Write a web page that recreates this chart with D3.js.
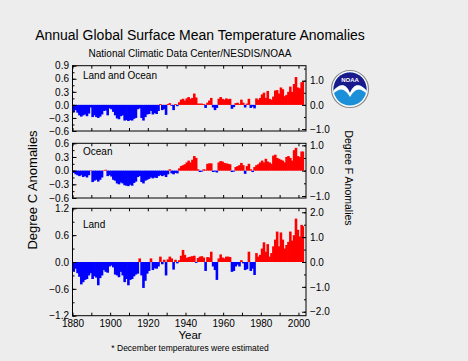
<!DOCTYPE html>
<html><head><meta charset="utf-8">
<script src="https://cdn.jsdelivr.net/npm/d3@7/dist/d3.min.js"></script>
<style>
html,body{margin:0;padding:0;background:#ededed;}
svg text{font-family:"Liberation Sans",Arial,sans-serif;fill:#000;}
</style></head>
<body><svg id="c" width="468" height="361"></svg>
<script>
const firstYear = 1880, lastYear = 2002;
const years = d3.range(firstYear, lastYear + 1);
const landOcean = [-0.17,-0.12,-0.18,-0.24,-0.27,-0.24,-0.22,-0.26,-0.20,-0.06,
-0.28,-0.24,-0.28,-0.30,-0.27,-0.22,-0.14,-0.13,-0.24,-0.08,
-0.10,-0.16,-0.24,-0.31,-0.33,-0.26,-0.24,-0.36,-0.35,-0.37,
-0.35,-0.36,-0.32,-0.30,-0.10,-0.08,-0.30,-0.36,-0.28,-0.22,
-0.21,-0.14,-0.22,-0.19,-0.21,-0.14,0.02,-0.12,-0.10,-0.23,
0.02,0.04,-0.02,-0.12,0.02,-0.03,0.06,0.12,0.14,0.10,
0.15,0.18,0.14,0.16,0.26,0.17,0.03,0.03,0.03,0.02,
-0.07,0.05,0.10,0.16,-0.06,-0.12,-0.07,0.14,0.18,0.14,
0.12,0.15,0.13,0.14,-0.09,-0.05,0.04,0.05,0.02,0.12,
0.05,-0.06,0.03,0.14,-0.07,-0.04,-0.08,0.15,0.12,0.16,
0.24,0.28,0.16,0.32,0.14,0.12,0.19,0.33,0.34,0.26,
0.40,0.36,0.20,0.23,0.30,0.42,0.30,0.48,0.64,0.40,
0.38,0.52,0.55];
const ocean = [-0.05,-0.08,-0.10,-0.12,-0.10,-0.14,-0.12,-0.15,-0.10,0.01,
-0.25,-0.22,-0.20,-0.24,-0.20,-0.15,0.01,0.02,-0.12,-0.10,
-0.13,-0.20,-0.22,-0.28,-0.30,-0.26,-0.28,-0.32,-0.33,-0.34,
-0.31,-0.33,-0.27,-0.24,-0.14,-0.12,-0.25,-0.28,-0.22,-0.20,
-0.18,-0.15,-0.17,-0.15,-0.16,-0.12,-0.10,-0.12,-0.10,-0.14,
-0.08,0.03,-0.06,-0.08,-0.05,-0.06,0.05,0.10,0.12,0.14,
0.18,0.22,0.18,0.24,0.32,0.28,0.03,-0.03,-0.02,0.03,
0.02,0.15,0.16,0.16,-0.03,-0.02,-0.04,0.18,0.21,0.20,
0.17,0.16,0.15,0.14,-0.03,-0.02,0.08,0.10,0.12,0.17,
0.12,-0.07,0.10,0.15,0.03,-0.03,0.08,0.12,0.14,0.18,
0.22,0.18,0.26,0.20,0.18,0.15,0.33,0.35,0.28,0.26,
0.24,0.22,0.18,0.30,0.32,0.28,0.22,0.45,0.50,0.32,
0.30,0.42,0.42];
const land = [-0.22,-0.15,-0.25,-0.33,-0.50,-0.45,-0.40,-0.38,-0.30,-0.25,
-0.38,-0.32,-0.35,-0.52,-0.36,-0.30,-0.18,-0.22,-0.24,-0.10,
-0.08,-0.12,-0.28,-0.30,-0.34,-0.22,-0.30,-0.45,-0.38,-0.52,
-0.40,-0.38,-0.32,-0.28,-0.26,0.08,-0.30,-0.58,-0.42,-0.26,
-0.20,0.08,-0.18,-0.14,-0.15,-0.10,0.12,-0.05,0.05,-0.30,
0.06,0.12,0.08,-0.17,0.05,-0.03,0.04,0.14,0.27,0.16,
0.09,0.11,0.12,0.13,0.14,-0.02,0.09,0.12,0.13,0.10,
-0.20,0.11,0.10,0.23,-0.10,-0.18,-0.40,0.08,0.17,0.10,
0.08,0.12,0.12,0.11,-0.22,-0.20,-0.10,-0.06,-0.10,0.04,
-0.03,-0.18,-0.16,0.23,-0.20,-0.15,-0.29,0.20,0.12,0.16,
0.30,0.44,0.23,0.40,0.12,0.20,0.35,0.50,0.68,0.35,
0.66,0.50,0.30,0.38,0.45,0.68,0.48,0.60,0.97,0.72,
0.57,0.83,0.80];

const yearTicks = [1880,1900,1920,1940,1960,1980,2000];
const decadeTicks = d3.range(1880, 2001, 10);
const ticksLO = [-0.6,-0.3,0.0,0.3,0.6,0.9];
const ticksOcean = [-0.6,-0.3,0.0,0.3,0.6];
const ticksLand = [-1.2,-0.6,0.0,0.6,1.2];
const fTicksSmall = [-1.0,0.0,1.0];
const fTicksLand = [-2.0,-1.0,0.0,1.0,2.0];

const panels = [
  {name:"Land and Ocean", data:landOcean, dom:[-0.6,0.9], y0:65.7, y1:131, ticks:ticksLO, minor:0.15, fticks:fTicksSmall, fminor:0.5},
  {name:"Ocean", data:ocean, dom:[-0.6,0.6], y0:143.3, y1:198, ticks:ticksOcean, minor:0.15, fticks:fTicksSmall, fminor:0.5},
  {name:"Land", data:land, dom:[-1.2,1.2], y0:208.3, y1:315.7, ticks:ticksLand, minor:0.3, fticks:fTicksLand, fminor:0.5}
];

const svg = d3.select("#c");
const X0 = 72.5, X1 = 306;
const x = d3.scaleLinear().domain([1880, 2004]).range([X0, X1]);
const fmt = d3.format(".1f");
const tickFont = a => a.selectAll("text").style("font-size","10px").style("font-family",'"Liberation Sans",Arial,sans-serif');

// Title
svg.append("text").attr("x", 200).attr("y", 39.5).attr("text-anchor","middle")
  .style("font-size","14px").text("Annual Global Surface Mean Temperature Anomalies");
svg.append("text").attr("x", 190).attr("y", 57).attr("text-anchor","middle")
  .style("font-size","10px").text("National Climatic Data Center/NESDIS/NOAA");

panels.forEach((p, i) => {
  const y = d3.scaleLinear().domain(p.dom).range([p.y1, p.y0]);
  const yf = d3.scaleLinear().domain([p.dom[0]*1.8, p.dom[1]*1.8]).range([p.y1, p.y0]);
  const g = svg.append("g");
  const step = x(1881) - x(1880);
  // bars
  g.selectAll("rect.bar").data(years).join("rect")
    .attr("x", d => x(d))
    .attr("width", d => d === lastYear ? step : step + 0.7)
    .attr("y", (d, k) => y(Math.max(0, p.data[k])))
    .attr("height", (d, k) => Math.abs(y(p.data[k]) - y(0)))
    .attr("fill", (d, k) => p.data[k] >= 0 ? "#ff0000" : "#0000ff");
  // frame
  g.append("rect").attr("x", X0).attr("y", p.y0).attr("width", X1 - X0).attr("height", p.y1 - p.y0)
    .attr("fill","none").attr("stroke","#000").attr("stroke-width",1);
  // left axis
  const minorC = d3.range(p.dom[0], p.dom[1] + 1e-6, p.minor);
  g.append("g").attr("transform",`translate(${X0},0)`)
    .call(d3.axisLeft(y).tickValues(minorC).tickSize(-2).tickFormat(""))
    .call(a => a.select(".domain").remove());
  g.append("g").attr("transform",`translate(${X0},0)`)
    .call(d3.axisLeft(y).tickValues(p.ticks).tickSizeInner(-4).tickSizeOuter(0).tickPadding(3.5).tickFormat(fmt))
    .call(a => a.select(".domain").remove())
    .call(tickFont);
  // right axis (F)
  const fmin = Math.ceil(p.dom[0]*1.8/p.fminor)*p.fminor, fmax = Math.floor(p.dom[1]*1.8/p.fminor)*p.fminor;
  g.append("g").attr("transform",`translate(${X1},0)`)
    .call(d3.axisRight(yf).tickValues(d3.range(fmin, fmax + 1e-6, p.fminor)).tickSize(-2).tickFormat(""))
    .call(a => a.select(".domain").remove());
  g.append("g").attr("transform",`translate(${X1},0)`)
    .call(d3.axisRight(yf).tickValues(p.fticks).tickSizeInner(-4).tickSizeOuter(0).tickPadding(4).tickFormat(fmt))
    .call(a => a.select(".domain").remove())
    .call(tickFont);
  // top & bottom ticks
  g.append("g").attr("transform",`translate(0,${p.y0})`)
    .call(d3.axisTop(x).tickValues(decadeTicks).tickSize(-3).tickFormat(""))
    .call(a => a.select(".domain").remove());
  g.append("g").attr("transform",`translate(0,${p.y1})`)
    .call(d3.axisBottom(x).tickValues(decadeTicks).tickSizeInner(-3).tickSizeOuter(0).tickPadding(4)
      .tickFormat(d => (i === 2 && yearTicks.includes(d)) ? String(d) : ""))
    .call(a => a.select(".domain").remove())
    .call(tickFont);
  // panel label
  g.append("text").attr("x", 83).attr("y", [79, 154.7, 227.7][i]).style("font-size","10px").text(p.name);
});

// axis titles
svg.append("text").attr("transform","translate(37,190) rotate(-90)").attr("text-anchor","middle")
  .style("font-size","13px").text("Degree C Anomalies");
svg.append("text").attr("transform","translate(344.5,178) rotate(90)").attr("text-anchor","middle")
  .style("font-size","10.5px").text("Degree F Anomalies");
svg.append("text").attr("x",190).attr("y",339).attr("text-anchor","middle").style("font-size","11.5px").text("Year");
svg.append("text").attr("x",190).attr("y",351).attr("text-anchor","middle").style("font-size","8.5px").text("* December temperatures were estimated");

// NOAA logo
const lg = svg.append("g").attr("transform","translate(350,89)");
lg.append("circle").attr("r",18.5).attr("fill","#ffffff").attr("stroke","#888").attr("stroke-width",1.2);
lg.append("defs").append("clipPath").attr("id","lc").append("circle").attr("r",16.5);
const lc = lg.append("g").attr("clip-path","url(#lc)");
lc.append("rect").attr("x",-17).attr("y",-17).attr("width",34).attr("height",34).attr("fill","#1b8fd8");
lc.append("path").attr("d","M-17,-17 H17 V2 C10,-6 4,-6 0,4 C-4,-6 -10,-6 -17,2 Z").attr("fill","#1a1a8c");
lc.append("path").attr("d","M-17,2 C-10,-6 -4,-6 0,4 C4,-6 10,-6 17,2 L17,5 C10,-2 5,-1 0,8 C-5,-1 -10,-2 -17,5 Z").attr("fill","#ffffff");
lg.append("text").attr("x",0).attr("y",-7).attr("text-anchor","middle").style("font-size","6px")
  .style("font-weight","bold").style("fill","#ffffff").text("NOAA");
</script></body></html>
